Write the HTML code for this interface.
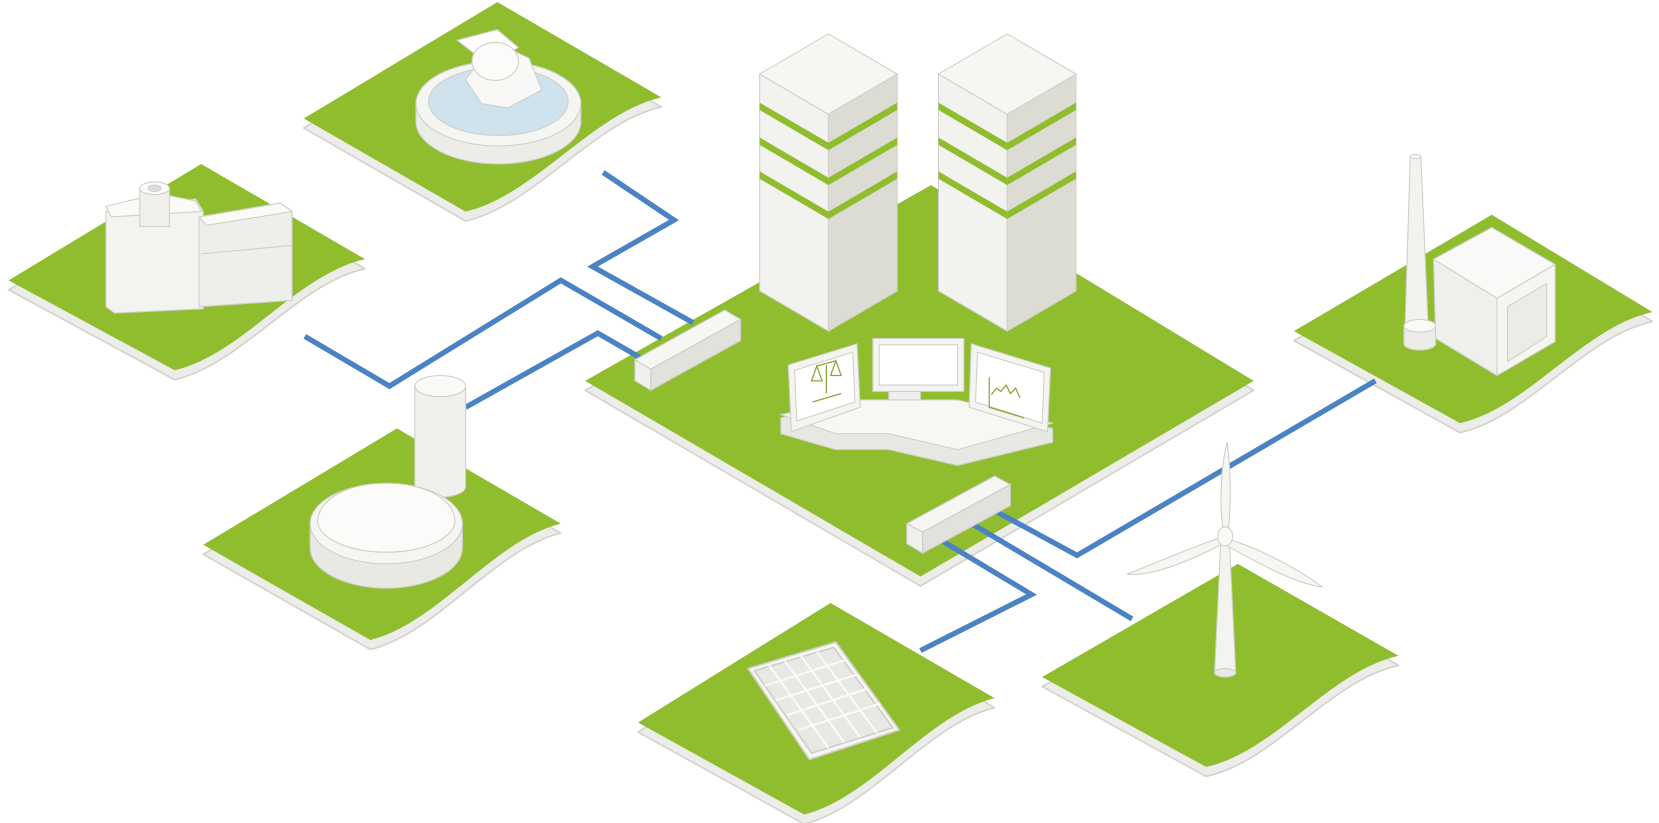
<!DOCTYPE html>
<html><head><meta charset="utf-8"><style>html,body{margin:0;padding:0;background:#fff;}svg{display:block}</style></head>
<body>
<svg width="1659" height="823" viewBox="0 0 1568 778" xmlns="http://www.w3.org/2000/svg">
<defs>
<g id="x"></g>
</defs>
<g stroke-linejoin="round">
<!-- tile bases -->
<g fill="#ecece8" stroke="#d2d2cc" stroke-width="1.5" transform="translate(0,9)">
<path d="M8,265 L190,155 L345,245 C281,259 229,335 165,350 Z"/>
<path d="M287,112 L470,2 L625,92 C560,107 505,185 440,200 Z"/>
<path d="M553,360 L880,175 L1185,360 L870,545 Z"/>
<path d="M192,515 L375,405 L530,495 C466,511 414,589 350,605 Z"/>
<path d="M1223,313 L1410,203 L1562,295 C1497,309 1445,385 1380,400 Z"/>
<path d="M603,683 L785,570 L940,660 C876,676 824,754 760,770 Z"/>
<path d="M985,640 L1170,533 L1322,620 C1257,634 1205,711 1140,725 Z"/>
</g>
<g fill="#8fbd2e">
<path d="M8,265 L190,155 L345,245 C281,259 229,335 165,350 Z"/>
<path d="M287,112 L470,2 L625,92 C560,107 505,185 440,200 Z"/>
<path d="M553,360 L880,175 L1185,360 L870,545 Z"/>
<path d="M192,515 L375,405 L530,495 C466,511 414,589 350,605 Z"/>
<path d="M1223,313 L1410,203 L1562,295 C1497,309 1445,385 1380,400 Z"/>
<path d="M603,683 L785,570 L940,660 C876,676 824,754 760,770 Z"/>
<path d="M985,640 L1170,533 L1322,620 C1257,634 1205,711 1140,725 Z"/>
</g>
</g>
<!-- cables -->
<g fill="none" stroke="#4a82c3" stroke-width="5" stroke-linejoin="miter">
<polyline points="570,163 637,208 560,252 655,305"/>
<polyline points="288,318 368,365 530,265 625,320"/>
<polyline points="440,385 565,315 605,338"/>
<polyline points="1300,360 1018,525 935,480"/>
<polyline points="1070,585 910,490"/>
<polyline points="870,615 975,562 885,508"/>
</g>

<!-- towers -->
<g stroke="#d0d0ca" stroke-width="1">
<g>
<polygon points="718,70 783,108 783,313 718,275" fill="#f2f2ef"/>
<polygon points="848,70 783,108 783,313 848,275" fill="#dcdcd5"/>
<polygon points="718,70 783,32 848,70 783,108" fill="#f6f6f3"/>
</g>
<g>
<polygon points="887,70 952,108 952,313 887,275" fill="#f2f2ef"/>
<polygon points="1017,70 952,108 952,313 1017,275" fill="#dcdcd5"/>
<polygon points="887,70 952,32 1017,70 952,108" fill="#f6f6f3"/>
</g>
</g>
<g fill="#8fbd2e">
<polygon points="718,97 783,135 783,142 718,104"/><polygon points="848,97 783,135 783,142 848,104"/>
<polygon points="718,130 783,168 783,175 718,137"/><polygon points="848,130 783,168 783,175 848,137"/>
<polygon points="718,162 783,200 783,207 718,169"/><polygon points="848,162 783,200 783,207 848,169"/>
<polygon points="887,97 952,135 952,142 887,104"/><polygon points="1017,97 952,135 952,142 1017,104"/>
<polygon points="887,130 952,168 952,175 887,137"/><polygon points="1017,130 952,168 952,175 1017,137"/>
<polygon points="887,162 952,200 952,207 887,169"/><polygon points="1017,162 952,200 952,207 1017,169"/>
</g>

<!-- hub boxes -->
<g stroke="#ccccc6" stroke-width="1">
<polygon points="600,340 685,293 700,302 615,349" fill="#f6f6f3"/>
<polygon points="615,349 700,302 700,322 615,369" fill="#e2e2dc"/>
<polygon points="600,340 615,349 615,369 600,360" fill="#f0f0ec"/>
<polygon points="857,495 940,450 955,458 872,503" fill="#f6f6f3"/>
<polygon points="872,503 955,458 955,478 872,523" fill="#e2e2dc"/>
<polygon points="857,495 872,503 872,523 857,514" fill="#f0f0ec"/>
</g>

<!-- control desk -->
<g stroke="#d0d0ca" stroke-width="1">
<polygon points="738,395 790,385 905,385 995,405 995,418 905,440 840,425 790,425 738,410" fill="#e8e8e3"/>
<polygon points="738,392 800,378 905,378 995,400 905,425 840,410 790,410" fill="#f7f7f4"/>
<polygon points="745,345 810,325 813,385 748,408" fill="#f4f4f1"/>
<polygon points="751,350 806,333 808,380 753,398" fill="#fff"/>
<rect x="825" y="320" width="86" height="50" fill="#f4f4f1"/>
<rect x="831" y="326" width="74" height="38" fill="#fff"/>
<rect x="840" y="370" width="30" height="8" fill="#eee"/>
<polygon points="918,325 993,348 990,408 916,385" fill="#f4f4f1"/>
<polygon points="924,333 987,352 985,400 922,380" fill="#fff"/>
</g>
<g fill="none" stroke="#8aa838" stroke-width="1.2">
<path d="M767,360 l5,-14 l5,14 z M785,355 l5,-14 l5,14 z M772,346 L790,341 M781,345 L781,372 M768,380 L795,372"/>
<path d="M935,357 L935,385 L968,395 M937,373 l5,-6 l4,3 l5,-6 l4,8 l5,-5 l4,9"/>
</g>

<!-- factory (tile A) -->
<g stroke="#cfcfc8" stroke-width="1">
<polygon points="100,200 185,188 192,200 192,292 108,296 100,290" fill="#f3f3f0"/>
<polygon points="100,195 150,183 185,190 190,200 105,205" fill="#fafaf8"/>
<polygon points="188,205 265,192 276,200 276,284 188,290" fill="#eeeeea"/>
<polygon points="188,205 265,192 276,200 195,213" fill="#fafaf8"/>
<line x1="190" y1="240" x2="276" y2="232"/>
<rect x="132" y="178" width="28" height="36" fill="#f0f0ec"/>
<ellipse cx="146" cy="178" rx="14" ry="6" fill="#fafaf8"/>
<ellipse cx="146" cy="178" rx="6" ry="3" fill="#ddd"/>
</g>

<!-- water treatment (tile B) -->
<g stroke="#cfcfc8" stroke-width="1">
<path d="M393,98 L393,115 A78,40 0 0 0 549,115 L549,98 Z" fill="#ecece8"/>
<ellipse cx="471" cy="98" rx="78" ry="40" fill="#f5f5f2"/>
<ellipse cx="471" cy="96" rx="66" ry="32" fill="#cfe3ee"/>
<path d="M440,75 L468,40 L500,55 L512,85 L480,102 L455,98 Z" fill="#f8f8f6"/>
<path d="M432,38 L470,28 L490,45 L460,60 Z" fill="#fff"/>
<ellipse cx="468" cy="58" rx="22" ry="18" fill="#fbfbf9"/>
</g>

<!-- biogas (tile D) -->
<g stroke="#cfcfc8" stroke-width="1">
<path d="M392,365 L392,460 A24,10 0 0 0 440,460 L440,365 Z" fill="#f0f0ec"/>
<ellipse cx="416" cy="365" rx="24" ry="10" fill="#fafaf8"/>
<path d="M293,495 L293,518 A72,38 0 0 0 437,518 L437,495 Z" fill="#e9e9e4"/>
<ellipse cx="365" cy="495" rx="72" ry="38" fill="#f5f5f2"/>
<path d="M300,492 C305,445 425,445 430,492 A65,30 0 0 1 300,492 Z" fill="#fbfbf9"/>
</g>

<!-- right plant (tile E) -->
<g stroke="#cfcfc8" stroke-width="1">
<polygon points="1333,148 1343,148 1350,310 1328,310" fill="#f2f2ee"/>
<ellipse cx="1338" cy="148" rx="5" ry="2" fill="#fff"/>
<path d="M1327,308 L1327,325 A15,6 0 0 0 1357,325 L1357,308 Z" fill="#ecece8"/>
<ellipse cx="1342" cy="308" rx="15" ry="6" fill="#fafaf8"/>
<polygon points="1355,245 1410,215 1470,250 1415,282" fill="#f9f9f7"/>
<polygon points="1355,245 1415,282 1415,355 1357,320" fill="#efefeb"/>
<polygon points="1415,282 1470,250 1470,323 1415,355" fill="#f5f5f2"/>
<polygon points="1425,290 1462,268 1462,318 1425,342" fill="#ececE7"/>
</g>

<!-- solar (tile F) -->
<g stroke="#cfcfc8" stroke-width="1.5">
<polygon points="707,632 790,607 850,690 765,718" fill="#f6f6f3"/>
<polygon points="713,634 788,612 844,688 767,712" fill="#e8e8e4"/>
<path d="M723,648 L799,624 M733,662 L809,638 M744,676 L820,651 M755,690 L832,665 M727,629 L783,707 M742,625 L798,702 M757,620 L813,697 M772,616 L829,693" stroke="#fafaf8" stroke-width="2"/>
</g>

<!-- wind (tile G) -->
<g stroke="#cfcfc8" stroke-width="1">
<polygon points="1154,510 1162,510 1168,636 1148,636" fill="#f3f3f0"/>
<ellipse cx="1158" cy="636" rx="10" ry="4" fill="#eaeae6"/>
<path d="M1156,500 C1152,470 1155,435 1160,418 C1163,440 1164,475 1161,500 Z" fill="#f6f6f3"/>
<path d="M1154,508 C1120,520 1085,535 1065,543 C1090,545 1125,530 1156,514 Z" fill="#f6f6f3"/>
<path d="M1162,510 C1195,520 1230,540 1250,555 C1225,552 1190,533 1160,516 Z" fill="#f6f6f3"/>
<ellipse cx="1158" cy="507" rx="7" ry="9" fill="#fafaf8"/>
</g>
</svg>
</body></html>
